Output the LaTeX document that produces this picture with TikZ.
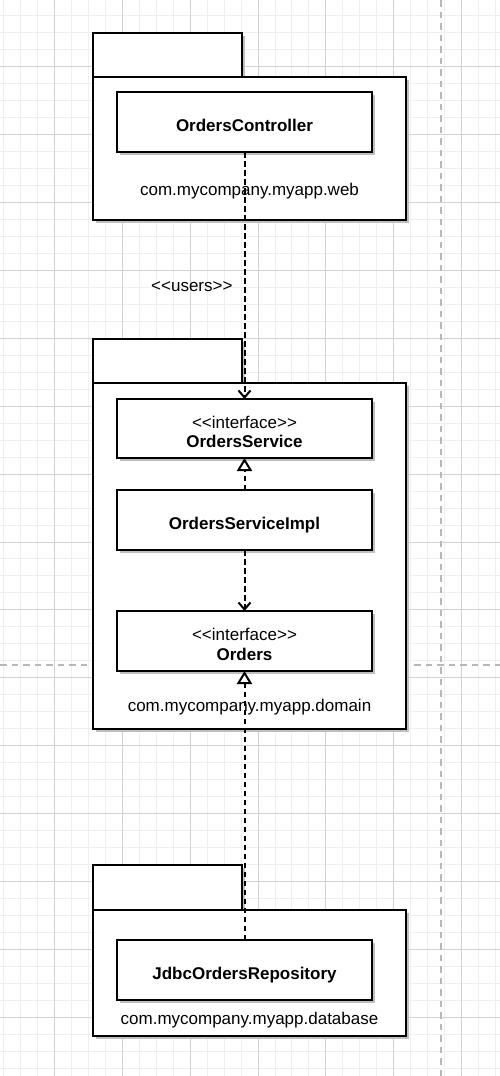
\documentclass[tikz,border=0pt]{standalone}
\usepackage{fontspec}
\newfontfamily\umlfont{Liberation Sans}
\usetikzlibrary{positioning}
\usetikzlibrary{arrows.meta}
\usetikzlibrary{shadows}
\definecolor{gridminor}{HTML}{EFEFEF}
\definecolor{gridmajor}{HTML}{D2D2D2}
\definecolor{guidegray}{HTML}{B8B8B8}
\newcommand\umltop{\rule{0pt}{22pt}}
\newcommand\umlbot{\rule[-3.5pt]{0pt}{3.5pt}}
\tikzset{>={Straight Barb[length=7pt,width=12pt]}}
\tikzset{realize/.style={-{Triangle[fill=white,length=13pt,width=15pt]}}}
\tikzset{dep/.style={line width=2pt, dash pattern=on 5.5pt off 3.5pt}}
\tikzset{boxshadow/.style={drop shadow={shadow xshift=3pt, shadow yshift=-3pt, fill=black!25, opacity=1}}}
\tikzset{cls/.style={draw, line width=1.7pt, fill=white, boxshadow, outer sep=0pt, inner sep=0pt, minimum width=255pt, minimum height=60pt, align=center, font=\umlfont\fontsize{17}{19.5}\selectfont}}
\tikzset{pkgtab/.style={draw, line width=1.7pt, fill=white, boxshadow, outer sep=0pt, minimum width=149pt, minimum height=44pt, anchor=north west}}
\tikzset{pkgbody/.style={draw, line width=1.7pt, fill=white, boxshadow, outer sep=0pt, minimum width=313pt, anchor=north west}}
\tikzset{pkgname/.style={inner sep=0pt, font=\umlfont\fontsize{17}{19.5}\selectfont}}
\tikzset{lbl/.style={inner sep=0pt, font=\umlfont\fontsize{17}{19.5}\selectfont}}

\begin{document}
\begin{tikzpicture}[x=1pt,y=-1pt]
\useasboundingbox (0,0) rectangle (500,1076);
\fill[white] (0,0) rectangle (500,1076);

% grid
\foreach \k in {0,...,29}
  \draw[gridminor, line width=1pt] ({3.4+16.975*\k},0) -- ++(0,1076);
\foreach \k in {1,...,63}
  \draw[gridminor, line width=1pt] (0,{-1.2+16.975*\k}) -- ++(500,0);
\foreach \k in {0,...,6}
  \draw[gridmajor, line width=1pt] ({54.3+67.9*\k},0) -- ++(0,1076);
\foreach \k in {0,...,14}
  \draw[gridmajor, line width=1pt] (0,{66.7+67.9*\k}) -- ++(500,0);
\draw[guidegray, line width=1.5pt, dash pattern=on 6.5pt off 5pt] (441,0) -- (441,1076);
\draw[guidegray, line width=1.5pt, dash pattern=on 6.5pt off 5pt] (0,665) -- (500,665);

% packages
\node[pkgtab] (webtab) at (93,33) {};
\node[pkgbody, minimum height=143pt] (web) at (webtab.south west) {};
\node[pkgname] (webname) at (249.5,191) {com.mycompany.myapp.web};

\node[pkgtab] (domaintab) at (93,339) {};
\node[pkgbody, minimum height=346pt] (domain) at (domaintab.south west) {};
\node[pkgname] (domainname) at (249.5,707) {com.mycompany.myapp.domain};

\node[pkgtab, minimum height=45pt] (dbtab) at (93,865) {};
\node[pkgbody, minimum height=126pt] (db) at (dbtab.south west) {};
\node[pkgname] (dbname) at (249.5,1020) {com.mycompany.myapp.database};

% classes
\node[cls] (ctrl) at (244.5,122) {\umltop\umlbot\textbf{OrdersController}};
\node[cls, minimum height=59pt] (svc) at (244.5,428.5) {\umltop<<interface>>\\\umlbot\textbf{OrdersService}};
\node[cls, below=32pt of svc] (impl) {\umltop\umlbot\textbf{OrdersServiceImpl}};
\node[cls, below=61pt of impl] (ord) {\umltop<<interface>>\\\umlbot\textbf{Orders}};
\node[cls] (repo) at (244.5,970) {\umltop\umlbot\textbf{JdbcOrdersRepository}};

% dependencies
\draw[dep, ->] (ctrl) -- (svc) node[lbl, pos=0.547, left=11pt] (users) {<<users>>};
\draw[dep, realize] (impl) -- (svc);
\draw[dep, ->] (impl) -- (ord);
\draw[dep, realize] (repo) -- (ord);
\end{tikzpicture}
\end{document}
